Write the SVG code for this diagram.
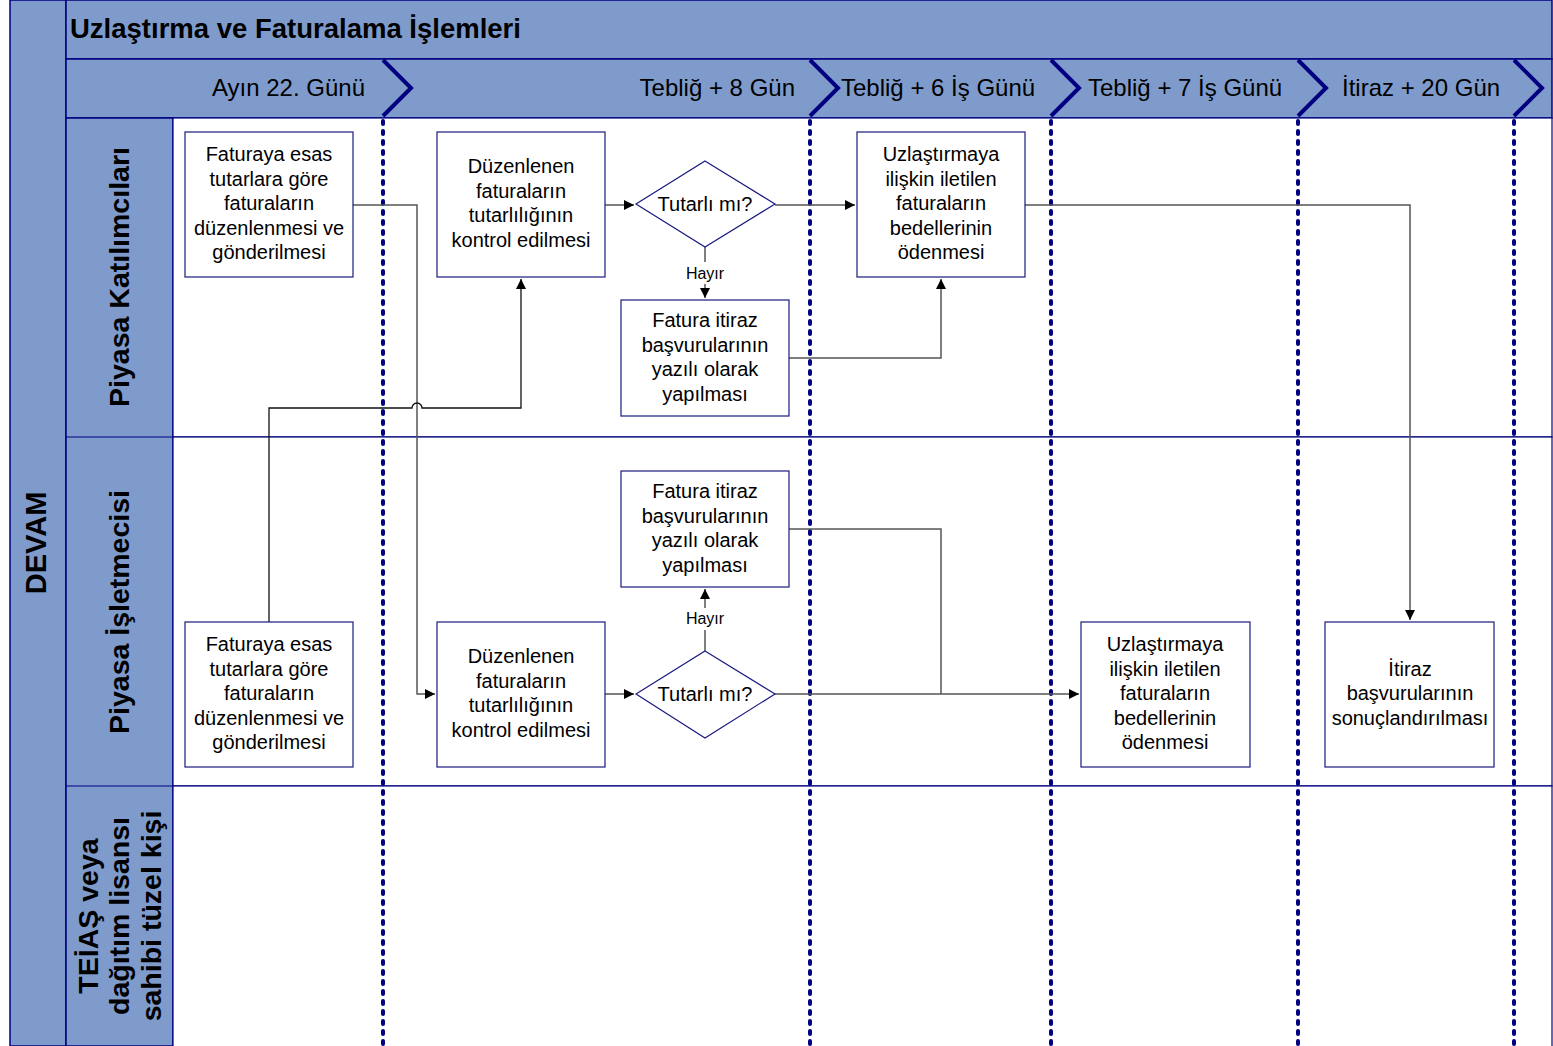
<svg xmlns="http://www.w3.org/2000/svg" width="1553" height="1046" viewBox="0 0 1553 1046">
<defs>
<marker id="arr" markerWidth="10" markerHeight="10" refX="10" refY="5" orient="auto" markerUnits="userSpaceOnUse">
<path d="M0,0 L10,5 L0,10 Z" fill="#000"/>
</marker>
<style>
.band{fill:#7f9bcc;stroke:#000080;stroke-width:1.5}
.lane{fill:#fff;stroke:#000080;stroke-width:1.2}
.box{fill:#fff;stroke:#1a1a80;stroke-width:1.2}
.t{font-family:"Liberation Sans",Arial,sans-serif;font-size:20px;fill:#000;text-anchor:middle}
.sm{font-family:"Liberation Sans",Arial,sans-serif;font-size:16px;fill:#000;text-anchor:middle}
.ph{font-family:"Liberation Sans",Arial,sans-serif;font-size:24px;fill:#000}
.hd{font-family:"Liberation Sans",Arial,sans-serif;font-weight:bold;fill:#000;text-anchor:middle}
.chev{fill:none;stroke:#000080;stroke-width:4}
.dot{stroke:#000080;stroke-width:4;stroke-dasharray:3 7;stroke-linecap:round}
.c{fill:none;stroke:#555;stroke-width:1.5}
.k{fill:none;stroke:#111;stroke-width:1.3}
</style>
</defs>
<g id="frame">
<rect class="band" x="10" y="0" width="56" height="1046"/>
<rect class="band" x="66" y="0" width="1486" height="59"/>
<rect class="band" x="66" y="59" width="1486" height="59"/>
<rect class="band" x="66" y="118" width="107" height="928"/>
<rect class="lane" x="173" y="118" width="1379" height="319"/>
<rect class="lane" x="173" y="437" width="1379" height="349"/>
<rect class="lane" x="173" y="786" width="1379" height="270"/>
<line x1="66" y1="437" x2="173" y2="437" stroke="#000080" stroke-width="1.2"/>
<line x1="66" y1="786" x2="173" y2="786" stroke="#000080" stroke-width="1.2"/>
<text class="hd" x="70" y="38" font-size="27.5" style="text-anchor:start">Uzlaştırma ve Faturalama İşlemleri</text>
<text class="hd" font-size="29" transform="translate(46,543) rotate(-90)">DEVAM</text>
<text class="hd" font-size="28.5" transform="translate(129,277) rotate(-90)">Piyasa Katılımcıları</text>
<text class="hd" font-size="28.5" transform="translate(129,612) rotate(-90)">Piyasa İşletmecisi</text>
<text class="hd" font-size="28.5" transform="translate(98,916) rotate(-90)">TEİAŞ veya</text>
<text class="hd" font-size="28.5" transform="translate(129,916) rotate(-90)">dağıtım lisansı</text>
<text class="hd" font-size="28.5" transform="translate(161,916) rotate(-90)">sahibi tüzel kişi</text>
</g>
<g id="phases">
<text class="ph" x="365" y="96" text-anchor="end">Ayın 22. Günü</text>
<text class="ph" x="795" y="96" text-anchor="end">Tebliğ + 8 Gün</text>
<text class="ph" x="841" y="96">Tebliğ + 6 İş Günü</text>
<text class="ph" x="1088" y="96">Tebliğ + 7 İş Günü</text>
<text class="ph" x="1342" y="96">İtiraz + 20 Gün</text>
<polyline class="chev" points="383,60 411,88 383,116"/>
<polyline class="chev" points="810,60 838,88 810,116"/>
<polyline class="chev" points="1051,60 1079,88 1051,116"/>
<polyline class="chev" points="1298,60 1326,88 1298,116"/>
<polyline class="chev" points="1514,60 1542,88 1514,116"/>
<line class="dot" x1="383" y1="121" x2="383" y2="1046"/>
<line class="dot" x1="810" y1="121" x2="810" y2="1046"/>
<line class="dot" x1="1051" y1="121" x2="1051" y2="1046"/>
<line class="dot" x1="1298" y1="121" x2="1298" y2="1046"/>
<line class="dot" x1="1514" y1="121" x2="1514" y2="1046"/>
</g>
<g id="connectors">
<path class="c" d="M353,205 H417 V694 H435" marker-end="url(#arr)"/>
<path class="k" d="M269,622 V408 H412 A5,5 0 0 1 422,408 H521 V279" marker-end="url(#arr)"/>
<path class="c" d="M605,205 H634" marker-end="url(#arr)"/>
<path class="c" d="M775,205 H855" marker-end="url(#arr)"/>
<path class="c" d="M705,247 V262 M705,284 V298" marker-end="url(#arr)"/>
<path class="c" d="M789,358 H941 V279" marker-end="url(#arr)"/>
<path class="c" d="M1025,205 H1410 V620" marker-end="url(#arr)"/>
<path class="c" d="M605,694 H634" marker-end="url(#arr)"/>
<path class="c" d="M705,651 V630 M705,608 V589" marker-end="url(#arr)"/>
<path class="c" d="M775,694 H1079" marker-end="url(#arr)"/>
<path class="c" d="M789,529 H941 V694"/>
<text class="sm" x="705" y="279">Hayır</text>
<text class="sm" x="705" y="624">Hayır</text>
</g>
<g id="A1"><rect class="box" x="185" y="132" width="168" height="145"/>
<text class="t" x="269" y="161">Faturaya esas</text><text class="t" x="269" y="186">tutarlara göre</text><text class="t" x="269" y="210">faturaların</text><text class="t" x="269" y="235">düzenlenmesi ve</text><text class="t" x="269" y="259">gönderilmesi</text></g>
<g id="B1"><rect class="box" x="437" y="132" width="168" height="145"/>
<text class="t" x="521" y="173">Düzenlenen</text><text class="t" x="521" y="198">faturaların</text><text class="t" x="521" y="222">tutarlılığının</text><text class="t" x="521" y="247">kontrol edilmesi</text></g>
<g id="D1"><polygon class="box" points="705,161 775,204 705,247 636,204"/>
<text class="t" x="705" y="211">Tutarlı mı?</text></g>
<g id="C1"><rect class="box" x="857" y="132" width="168" height="145"/>
<text class="t" x="941" y="161">Uzlaştırmaya</text><text class="t" x="941" y="186">ilişkin iletilen</text><text class="t" x="941" y="210">faturaların</text><text class="t" x="941" y="235">bedellerinin</text><text class="t" x="941" y="259">ödenmesi</text></g>
<g id="E1"><rect class="box" x="621" y="300" width="168" height="116"/>
<text class="t" x="705" y="327">Fatura itiraz</text><text class="t" x="705" y="352">başvurularının</text><text class="t" x="705" y="376">yazılı olarak</text><text class="t" x="705" y="401">yapılması</text></g>
<g id="E2"><rect class="box" x="621" y="471" width="168" height="116"/>
<text class="t" x="705" y="498">Fatura itiraz</text><text class="t" x="705" y="523">başvurularının</text><text class="t" x="705" y="547">yazılı olarak</text><text class="t" x="705" y="572">yapılması</text></g>
<g id="A2"><rect class="box" x="185" y="622" width="168" height="145"/>
<text class="t" x="269" y="651">Faturaya esas</text><text class="t" x="269" y="676">tutarlara göre</text><text class="t" x="269" y="700">faturaların</text><text class="t" x="269" y="725">düzenlenmesi ve</text><text class="t" x="269" y="749">gönderilmesi</text></g>
<g id="B2"><rect class="box" x="437" y="622" width="168" height="145"/>
<text class="t" x="521" y="663">Düzenlenen</text><text class="t" x="521" y="688">faturaların</text><text class="t" x="521" y="712">tutarlılığının</text><text class="t" x="521" y="737">kontrol edilmesi</text></g>
<g id="D2"><polygon class="box" points="705,651 775,694 705,738 636,694"/>
<text class="t" x="705" y="701">Tutarlı mı?</text></g>
<g id="C2"><rect class="box" x="1081" y="622" width="169" height="145"/>
<text class="t" x="1165" y="651">Uzlaştırmaya</text><text class="t" x="1165" y="676">ilişkin iletilen</text><text class="t" x="1165" y="700">faturaların</text><text class="t" x="1165" y="725">bedellerinin</text><text class="t" x="1165" y="749">ödenmesi</text></g>
<g id="F2"><rect class="box" x="1325" y="622" width="169" height="145"/>
<text class="t" x="1410" y="676">İtiraz</text><text class="t" x="1410" y="700">başvurularının</text><text class="t" x="1410" y="725">sonuçlandırılması</text></g>
</svg>
